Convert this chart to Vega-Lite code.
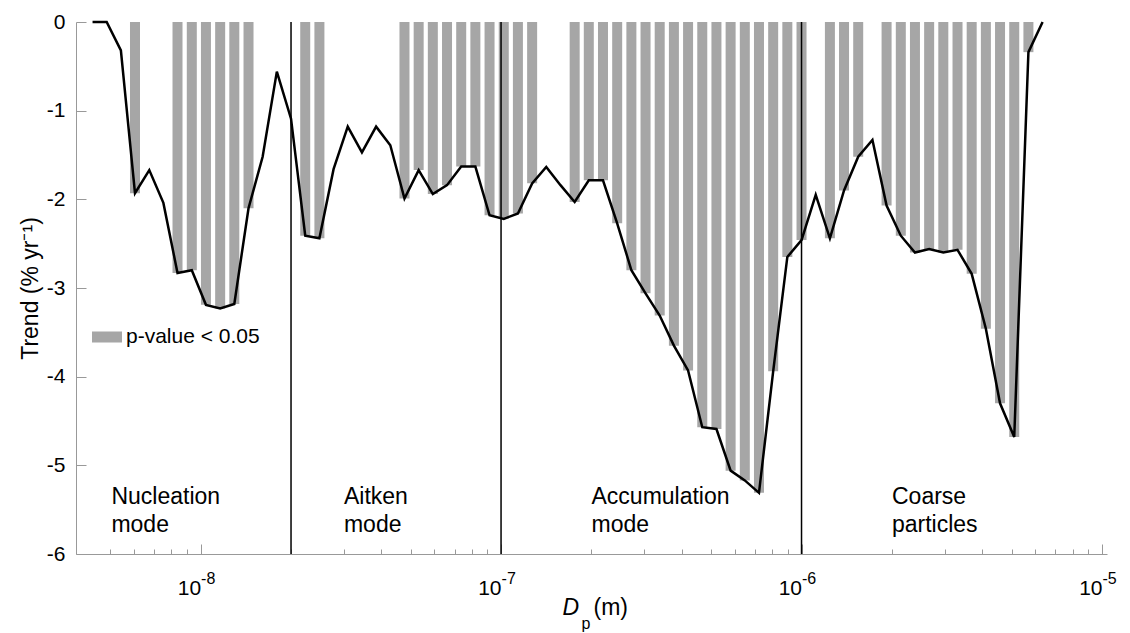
{
  "$schema": "https://vega.github.io/schema/vega-lite/v6.json",
  "width": 1031,
  "height": 532,
  "autosize": "none",
  "padding": {"left": 76, "top": 22, "right": 23, "bottom": 79},
  "background": "white",
  "config": {
    "view": {"stroke": null},
    "font": "Liberation Sans",
    "axis": {"grid": false, "labelFont": "Liberation Sans", "titleFont": "Liberation Sans", "labelColor": "#000000", "titleColor": "#000000", "domainColor": "#999999", "tickColor": "#999999", "domainWidth": 1, "titleFontWeight": "normal", "labelFlush": false, "labelOverlap": false}
  },
  "datasets": {
    "pts": [
      {"D": 4.37e-9, "trend": 0, "sig": false},
      {"D": 4.87e-9, "trend": 0, "sig": false},
      {"D": 5.43e-9, "trend": -0.32, "sig": false},
      {"D": 6.05e-9, "trend": -1.93, "sig": true},
      {"D": 6.75e-9, "trend": -1.67, "sig": false},
      {"D": 7.52e-9, "trend": -2.04, "sig": false},
      {"D": 8.38e-9, "trend": -2.83, "sig": true},
      {"D": 9.35e-9, "trend": -2.80, "sig": true},
      {"D": 1.042e-8, "trend": -3.19, "sig": true},
      {"D": 1.162e-8, "trend": -3.23, "sig": true},
      {"D": 1.295e-8, "trend": -3.18, "sig": true},
      {"D": 1.444e-8, "trend": -2.10, "sig": true},
      {"D": 1.609e-8, "trend": -1.52, "sig": false},
      {"D": 1.794e-8, "trend": -0.56, "sig": false},
      {"D": 2.0e-8, "trend": -1.09, "sig": false},
      {"D": 2.23e-8, "trend": -2.41, "sig": true},
      {"D": 2.486e-8, "trend": -2.44, "sig": true},
      {"D": 2.771e-8, "trend": -1.66, "sig": false},
      {"D": 3.089e-8, "trend": -1.18, "sig": false},
      {"D": 3.444e-8, "trend": -1.47, "sig": false},
      {"D": 3.839e-8, "trend": -1.18, "sig": false},
      {"D": 4.28e-8, "trend": -1.39, "sig": false},
      {"D": 4.771e-8, "trend": -1.99, "sig": true},
      {"D": 5.319e-8, "trend": -1.67, "sig": true},
      {"D": 5.929e-8, "trend": -1.94, "sig": true},
      {"D": 6.61e-8, "trend": -1.84, "sig": true},
      {"D": 7.369e-8, "trend": -1.63, "sig": true},
      {"D": 8.214e-8, "trend": -1.63, "sig": true},
      {"D": 9.157e-8, "trend": -2.18, "sig": true},
      {"D": 1.021e-7, "trend": -2.22, "sig": true},
      {"D": 1.138e-7, "trend": -2.16, "sig": true},
      {"D": 1.269e-7, "trend": -1.82, "sig": true},
      {"D": 1.414e-7, "trend": -1.635, "sig": false},
      {"D": 1.577e-7, "trend": -1.84, "sig": false},
      {"D": 1.758e-7, "trend": -2.03, "sig": true},
      {"D": 1.959e-7, "trend": -1.785, "sig": true},
      {"D": 2.184e-7, "trend": -1.785, "sig": true},
      {"D": 2.435e-7, "trend": -2.27, "sig": true},
      {"D": 2.715e-7, "trend": -2.80, "sig": true},
      {"D": 3.026e-7, "trend": -3.06, "sig": true},
      {"D": 3.373e-7, "trend": -3.31, "sig": true},
      {"D": 3.761e-7, "trend": -3.65, "sig": true},
      {"D": 4.192e-7, "trend": -3.93, "sig": true},
      {"D": 4.674e-7, "trend": -4.57, "sig": true},
      {"D": 5.21e-7, "trend": -4.59, "sig": true},
      {"D": 5.808e-7, "trend": -5.06, "sig": true},
      {"D": 6.475e-7, "trend": -5.17, "sig": true},
      {"D": 7.218e-7, "trend": -5.31, "sig": true},
      {"D": 8.047e-7, "trend": -3.94, "sig": true},
      {"D": 8.97e-7, "trend": -2.65, "sig": true},
      {"D": 1.0e-6, "trend": -2.46, "sig": true},
      {"D": 1.115e-6, "trend": -1.95, "sig": false},
      {"D": 1.243e-6, "trend": -2.44, "sig": true},
      {"D": 1.385e-6, "trend": -1.90, "sig": true},
      {"D": 1.544e-6, "trend": -1.52, "sig": true},
      {"D": 1.722e-6, "trend": -1.33, "sig": false},
      {"D": 1.919e-6, "trend": -2.07, "sig": true},
      {"D": 2.14e-6, "trend": -2.41, "sig": true},
      {"D": 2.385e-6, "trend": -2.60, "sig": true},
      {"D": 2.659e-6, "trend": -2.56, "sig": true},
      {"D": 2.964e-6, "trend": -2.60, "sig": true},
      {"D": 3.305e-6, "trend": -2.57, "sig": true},
      {"D": 3.684e-6, "trend": -2.84, "sig": true},
      {"D": 4.107e-6, "trend": -3.46, "sig": true},
      {"D": 4.578e-6, "trend": -4.30, "sig": true},
      {"D": 5.104e-6, "trend": -4.68, "sig": true},
      {"D": 5.69e-6, "trend": -0.34, "sig": true},
      {"D": 6.343e-6, "trend": 0, "sig": false}
    ],
    "bounds": [{"D": 2e-8}, {"D": 1e-7}, {"D": 1e-6}],
    "modes": [
      {"label": "Nucleation\nmode", "D": 5.05e-9, "trend": -5.44},
      {"label": "Aitken\nmode", "D": 3.0e-8, "trend": -5.44},
      {"label": "Accumulation\nmode", "D": 2.0e-7, "trend": -5.44},
      {"label": "Coarse\nparticles", "D": 2.0e-6, "trend": -5.44}
    ]
  },
  "resolve": {"axis": {"x": "independent"}},
  "layer": [
    {
      "data": {"name": "pts"},
      "transform": [{"filter": "datum.sig"}],
      "mark": {"type": "bar", "size": 10, "orient": "vertical"},
      "encoding": {
        "x": {
          "field": "D", "type": "quantitative",
          "scale": {"type": "log", "domain": [4e-9, 1e-5], "nice": false},
          "axis": {
            "orient": "bottom", "values": [1e-8, 1e-7, 1e-6, 1e-5], "labelExpr": "'10'",
            "tickSize": -10, "labelPadding": 50, "labelBaseline": "alphabetic", "labelAlign": "right", "labelDx": 2,
            "labelFontSize": 21, "title": "D", "titleFontStyle": "italic", "titleFontSize": 23,
            "titleX": 486, "titleY": 60, "titleAlign": "left", "titleBaseline": "alphabetic"
          }
        },
        "y": {
          "field": "trend", "type": "quantitative", "stack": null,
          "scale": {"domain": [-6, 0], "nice": false},
          "axis": {
            "orient": "left", "domain": true,
            "values": [-6, -5, -4, -3, -2, -1, 0], "labelExpr": "'' + datum.value",
            "tickSize": -10, "labelPadding": 21, "labelFontSize": 21, "labelBaseline": "middle",
            "title": "Trend (% yr⁻¹)", "titleFontSize": 23, "titleAngle": 270, "titleX": -39, "titleY": 266,
            "titleAlign": "center", "titleBaseline": "alphabetic"
          }
        },
        "color": {
          "datum": "p-value < 0.05", "type": "nominal",
          "scale": {"range": ["#a6a6a6"]},
          "legend": {
            "orient": "none", "legendX": 16, "legendY": 300, "title": null, "padding": 0,
            "symbolType": "M-1,-0.367H1V0.367H-1Z", "symbolSize": 900, "symbolStrokeWidth": 0, "symbolOpacity": 1,
            "labelFontSize": 21, "labelFont": "Liberation Sans", "labelColor": "#000000", "labelOffset": 4
          }
        }
      }
    },
    {
      "data": {"name": "bounds"},
      "mark": {"type": "rule", "color": "#000000", "strokeWidth": 1.5},
      "encoding": {
        "x": {
          "field": "D", "type": "quantitative",
          "axis": {
            "orient": "bottom",
            "values": [5e-9, 6e-9, 7e-9, 8e-9, 9e-9, 2e-8, 3e-8, 4e-8, 5e-8, 6e-8, 7e-8, 8e-8, 9e-8, 2e-7, 3e-7, 4e-7, 5e-7, 6e-7, 7e-7, 8e-7, 9e-7, 2e-6, 3e-6, 4e-6, 5e-6, 6e-6, 7e-6, 8e-6, 9e-6],
            "labels": false, "domain": false, "tickSize": -5,
            "title": "(m)", "titleFontSize": 23, "titleX": 517, "titleY": 60, "titleAlign": "left", "titleBaseline": "alphabetic"
          }
        }
      }
    },
    {
      "data": {"name": "pts"},
      "mark": {"type": "line", "color": "#000000", "strokeWidth": 2.5},
      "encoding": {
        "x": {
          "field": "D", "type": "quantitative",
          "axis": {
            "orient": "bottom", "values": [1e-8, 1e-7, 1e-6, 1e-5],
            "labelExpr": "datum.value < 5e-8 ? '-8' : datum.value < 5e-7 ? '-7' : datum.value < 5e-6 ? '-6' : '-5'",
            "ticks": false, "domain": false, "labelPadding": 29, "labelBaseline": "alphabetic", "labelAlign": "left", "labelDx": 2,
            "labelFontSize": 16, "title": "p", "titleFontSize": 16, "titleX": 505, "titleY": 74, "titleAlign": "left", "titleBaseline": "alphabetic"
          }
        },
        "y": {
          "field": "trend", "type": "quantitative",
          "axis": {
            "orient": "left", "domain": true,
            "values": [-6, -5, -4, -3, -2, -1, 0], "labelExpr": "'' + datum.value",
            "tickSize": -10, "labelPadding": 21, "labelFontSize": 21, "labelBaseline": "middle",
            "title": "Trend (% yr⁻¹)", "titleFontSize": 23, "titleAngle": 270, "titleX": -39, "titleY": 266,
            "titleAlign": "center", "titleBaseline": "alphabetic"
          }
        }
      }
    },
    {
      "data": {"name": "modes"},
      "mark": {"type": "text", "align": "left", "baseline": "alphabetic", "fontSize": 23, "lineBreak": "\n", "lineHeight": 28, "font": "Liberation Sans", "color": "#000000"},
      "encoding": {
        "x": {"field": "D", "type": "quantitative", "axis": null},
        "y": {
          "field": "trend", "type": "quantitative",
          "axis": {
            "orient": "left", "domain": true,
            "values": [-6, -5, -4, -3, -2, -1, 0], "labelExpr": "'' + datum.value",
            "tickSize": -10, "labelPadding": 21, "labelFontSize": 21, "labelBaseline": "middle",
            "title": "Trend (% yr⁻¹)", "titleFontSize": 23, "titleAngle": 270, "titleX": -39, "titleY": 266,
            "titleAlign": "center", "titleBaseline": "alphabetic"
          }
        },
        "text": {"field": "label"}
      }
    }
  ]
}
